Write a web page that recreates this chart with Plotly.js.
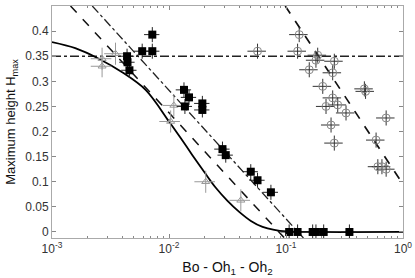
<!DOCTYPE html>
<html>
<head>
<meta charset="utf-8">
<script src="https://cdn.plot.ly/plotly-3.0.1.min.js"></script>
<style>html,body{margin:0;padding:0;background:#fff;}#chart{width:415px;height:278px;}</style>
</head>
<body>
<div id="chart"></div>
<script>
// Model curve (solid)
var curveX = [0.001, 0.00158, 0.00251, 0.00398, 0.00631, 0.01, 0.01259, 0.01585, 0.01995, 0.02512, 0.03162, 0.03981, 0.05012, 0.0631, 0.07943, 0.1, 0.1585, 1];
var curveY = [0.378, 0.366, 0.345, 0.318, 0.283, 0.22, 0.187, 0.153, 0.12, 0.088, 0.062, 0.04, 0.022, 0.010, 0.004, 0.001, 0.0, 0.0];
// Straight guide lines
var lineAX = [0.00144, 0.097], lineAY = [0.45, -0.012];
var lineBX = [0.00221, 0.141], lineBY = [0.45, -0.012];
var lineCX = [0.0986, 1], lineCY = [0.45, 0.095];
var hLineX = [0.001, 1], hLineY = [0.35, 0.35];
// Filled squares
var sqX = [0.00438, 0.00442, 0.00459, 0.0059, 0.0072, 0.0072, 0.01343, 0.01483, 0.01368, 0.01928, 0.01928, 0.02864, 0.03055, 0.05, 0.0571, 0.0743, 0.1064, 0.1256, 0.169, 0.1803, 0.2099, 0.3483];
var sqY = [0.350, 0.338, 0.322, 0.36, 0.393, 0.36, 0.283, 0.268, 0.25, 0.256, 0.243, 0.165, 0.153, 0.12, 0.103, 0.079, 0, 0, 0, 0, 0, 0];
// Gray triangles
var triX = [0.00268, 0.00268, 0.00349, 0.0110, 0.01033, 0.0206, 0.0411];
var triY = [0.345, 0.33, 0.355, 0.252, 0.22, 0.1, 0.063];
// Open circles
var cirX = [0.0571, 0.1297, 0.1256, 0.1866, 0.1803, 0.2588, 0.1581, 0.2506, 0.2061, 0.4677, 0.4786, 0.2506, 0.2198, 0.2767, 0.3258, 0.7178, 0.2427, 0.2588, 0.5888, 0.6095, 0.7178, 0.6607];
var cirY = [0.36, 0.393, 0.36, 0.352, 0.342, 0.34, 0.323, 0.317, 0.29, 0.285, 0.28, 0.267, 0.25, 0.253, 0.237, 0.227, 0.213, 0.177, 0.183, 0.13, 0.125, 0.13];
// Ticks
var yTickVals = [0, 0.05, 0.1, 0.15, 0.2, 0.25, 0.3, 0.35, 0.4, 0.45];
var yTickText = ['0', '0.05', '0.1', '0.15', '0.2', '0.25', '0.3', '0.35', '0.4', '0.45'];
var xTickVals = [0.001, 0.01, 0.1, 1];
var xTickText = ['10<sup>-3</sup>', '10<sup>-2</sup>', '10<sup>-1</sup>', '10<sup>0</sup>'];
var xMinor = [];
[0.001, 0.01, 0.1].forEach(function(d){ for (var k = 2; k <= 9; k++) xMinor.push(d * k); });

var traces = [
  {x: hLineX, y: hLineY, mode: 'lines', line: {color: '#222', width: 1.5, dash: 'dashdot'}, hoverinfo: 'skip'},
  {x: curveX, y: curveY, mode: 'lines', line: {color: '#000', width: 1.8, shape: 'spline'}, hoverinfo: 'skip'},
  {x: lineAX, y: lineAY, mode: 'lines', line: {color: '#111', width: 1.5, dash: 'dash'}},
  {x: lineBX, y: lineBY, mode: 'lines', line: {color: '#222', width: 1.3, dash: 'dashdot'}},
  {x: lineCX, y: lineCY, mode: 'lines', line: {color: '#111', width: 1.7, dash: 'dash'}},
  {x: triX, y: triY, mode: 'markers', marker: {symbol: 'triangle-up-open', size: 7, color: '#999', line: {width: 1}},
   error_x: {type: 'percent', value: 20, color: '#999', thickness: 1, width: 0},
   error_y: {type: 'constant', value: 0.022, color: '#999', thickness: 1, width: 0}},
  {x: cirX, y: cirY, mode: 'markers', marker: {symbol: 'circle-open', size: 8, color: '#888', line: {width: 1}},
   error_x: {type: 'percent', value: 18, color: '#333', thickness: 1, width: 0},
   error_y: {type: 'constant', value: 0.015, color: '#333', thickness: 1, width: 0}},
  {x: sqX, y: sqY, mode: 'markers', marker: {symbol: 'square', size: 8, color: '#000'},
   error_x: {type: 'percent', value: 15, color: '#222', thickness: 1, width: 0},
   error_y: {type: 'constant', value: 0.015, color: '#222', thickness: 1, width: 0}}
];

var layout = {
  width: 415, height: 278,
  margin: {l: 52, r: 12, t: 6, b: 40},
  paper_bgcolor: '#fff', plot_bgcolor: '#fff',
  showlegend: false,
  font: {family: 'Liberation Sans, Arial, sans-serif', size: 12, color: '#222'},
  xaxis: {
    type: 'log', range: [-3, 0],
    tickmode: 'array', tickvals: xTickVals, ticktext: xTickText,
    ticks: 'inside', ticklen: 4, tickcolor: '#888',
    minor: {tickmode: 'array', tickvals: xMinor, ticks: 'inside', ticklen: 2, tickcolor: '#888'},
    showline: true, linecolor: '#aaa', linewidth: 1, mirror: 'ticks',
    showgrid: false, zeroline: false,
    tickfont: {size: 12, color: '#333'},
    title: {text: 'Bo - Oh<sub>1</sub> - Oh<sub>2</sub>', font: {size: 14, color: '#111'}, standoff: 6}
  },
  yaxis: {
    range: [-0.012, 0.45],
    tickmode: 'array', tickvals: yTickVals, ticktext: yTickText,
    ticks: 'inside', ticklen: 4, tickcolor: '#888',
    showline: true, linecolor: '#aaa', linewidth: 1, mirror: 'ticks',
    showgrid: false, zeroline: false,
    tickfont: {size: 12, color: '#333'},
    title: {text: 'Maximum height H<sub>max</sub>', font: {size: 13, color: '#111'}, standoff: 6}
  }
};

Plotly.newPlot('chart', traces, layout, {staticPlot: true, displayModeBar: false});
</script>
</body>
</html>
